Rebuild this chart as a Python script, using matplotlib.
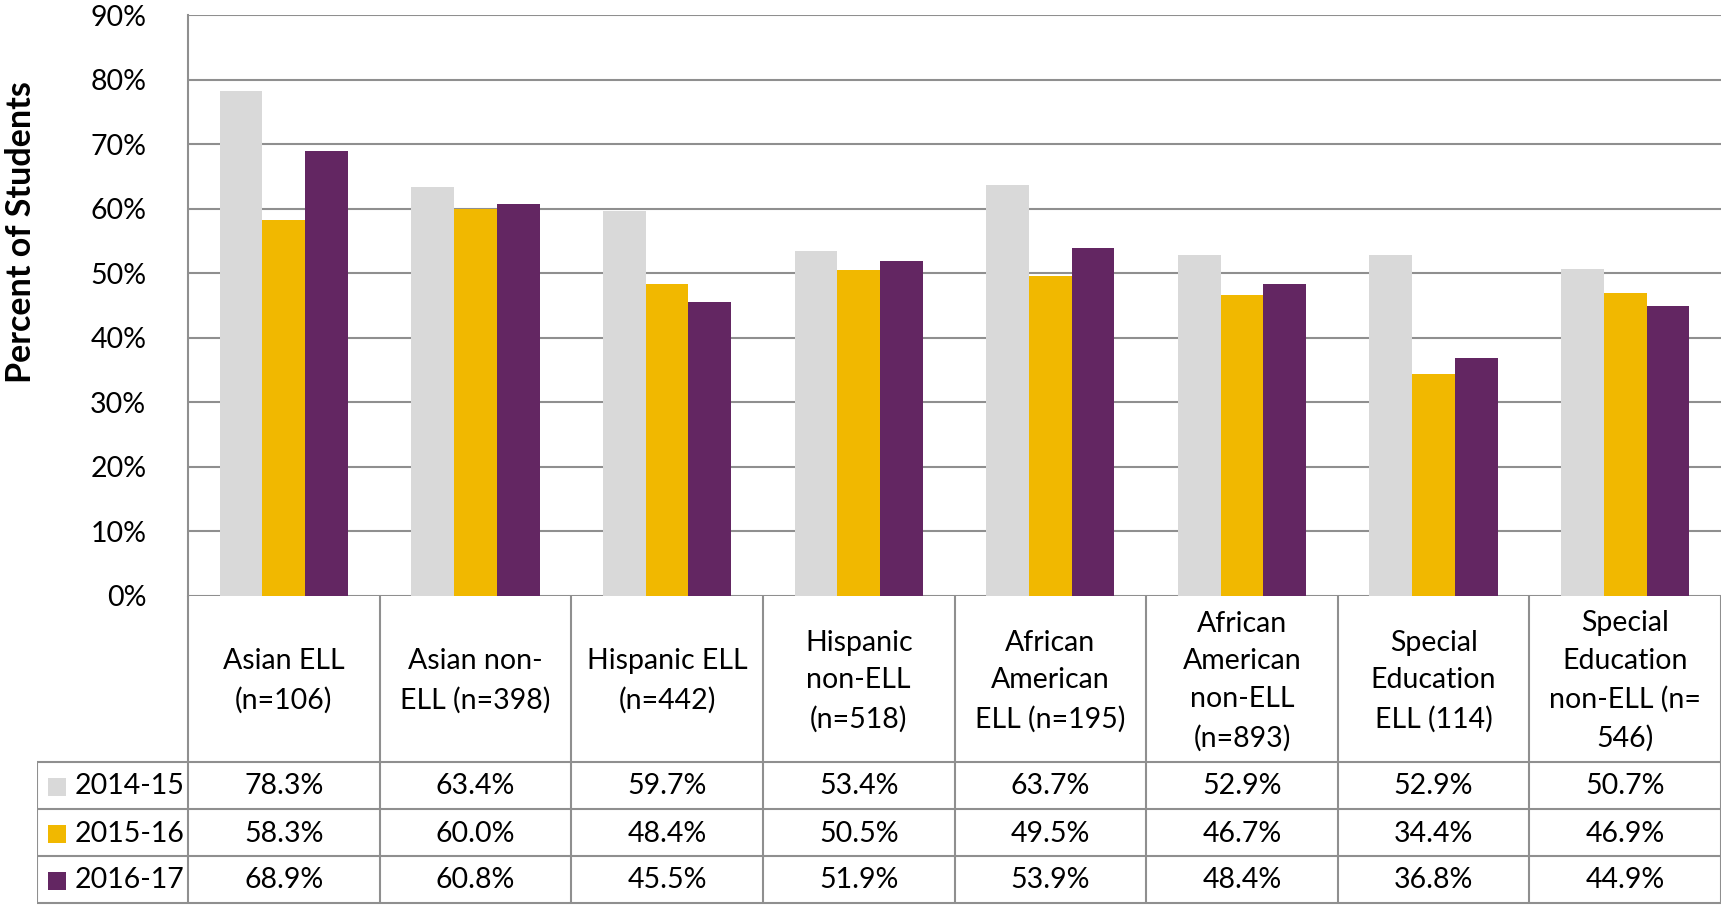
import numpy as np
import matplotlib
matplotlib.use("Agg")
import matplotlib.pyplot as plt
from matplotlib.patches import Rectangle

plt.rcParams['font.family'] = ['Lato', 'DejaVu Sans']

categories = [
    "Asian ELL\n(n=106)",
    "Asian non-\nELL (n=398)",
    "Hispanic ELL\n(n=442)",
    "Hispanic\nnon-ELL\n(n=518)",
    "African\nAmerican\nELL (n=195)",
    "African\nAmerican\nnon-ELL\n(n=893)",
    "Special\nEducation\nELL (114)",
    "Special\nEducation\nnon-ELL (n=\n546)",
]
years = ["2014-15", "2015-16", "2016-17"]
vals_2014 = [78.3, 63.4, 59.7, 53.4, 63.7, 52.9, 52.9, 50.7]
vals_2015 = [58.3, 60.0, 48.4, 50.5, 49.5, 46.7, 34.4, 46.9]
vals_2016 = [68.9, 60.8, 45.5, 51.9, 53.9, 48.4, 36.8, 44.9]
series = [vals_2014, vals_2015, vals_2016]
colors = ['#d9d9d9', '#f1b800', '#632662']

W, H = 1721, 907
fig = plt.figure(figsize=(W / 100, H / 100), dpi=100)

# pixel layout
ax_left, ax_top, ax_bottom = 188, 15, 596
leg_left = 37
row_lines = [762, 809, 856, 903]
grid_c = '#8f8f8f'
fs = 20.5

ax = fig.add_axes([ax_left / W, 1 - ax_bottom / H, 1 - ax_left / W, (ax_bottom - ax_top) / H])
n = len(categories)
x = np.arange(n) + 0.5
bw = 0.223
for i, (vals, c) in enumerate(zip(series, colors)):
    ax.bar(x + (i - 1) * bw, vals, width=bw, color=c, zorder=3, linewidth=0)

ax.set_xlim(0, n)
ax.set_ylim(0, 90)
ax.set_yticks(range(0, 91, 10))
ax.set_yticklabels([f"{v}%" for v in range(0, 91, 10)], fontsize=fs)
ax.tick_params(axis='y', length=0, pad=30)
ax.set_xticks([])
ax.grid(axis='y', color=grid_c, linewidth=1.5, zorder=0)
for s in ['top', 'right', 'bottom']:
    ax.spines[s].set_visible(False)
ax.spines['left'].set_color(grid_c)
ax.spines['left'].set_linewidth(1.5)

fig.text(21 / W, 1 - 232 / H, "Percent of Students", rotation=90, ha='center', va='center',
         fontsize=24.5, fontweight='bold')

# table below the chart
scale = (W - ax_left) / n
xl = (leg_left - ax_left) / scale
tax = fig.add_axes([leg_left / W, 0, 1 - leg_left / W, 1 - ax_bottom / H])
tax.set_xlim(xl, n)
tax.set_ylim(H, ax_bottom)
tax.axis('off')

lw = 1.5
for k in range(n + 1):
    tax.plot([k, k], [ax_bottom, row_lines[-1]], color=grid_c, lw=lw, solid_capstyle='butt')
tax.plot([xl, xl], [row_lines[0], row_lines[-1]], color=grid_c, lw=lw, solid_capstyle='butt')
for y in row_lines:
    tax.plot([xl, n], [y, y], color=grid_c, lw=lw, solid_capstyle='butt')

header_mid = (ax_bottom + row_lines[0]) / 2 + 2
for k, cat in enumerate(categories):
    tax.text(k + 0.5, header_mid, cat, ha='center', va='center', fontsize=fs,
             linespacing=1.56)

for r, (yr, vals, c) in enumerate(zip(years, series, colors)):
    ymid = (row_lines[r] + row_lines[r + 1]) / 2 + 1
    sq = 18 / scale
    tax.add_patch(Rectangle((xl + 11 / scale, ymid - 9), sq, 18, color=c, lw=0))
    tax.text(xl + 38 / scale, ymid, yr, ha='left', va='center', fontsize=fs)
    for k, v in enumerate(vals):
        tax.text(k + 0.5, ymid, f"{v:.1f}%", ha='center', va='center', fontsize=fs)

fig.savefig("out.png", dpi=100)
